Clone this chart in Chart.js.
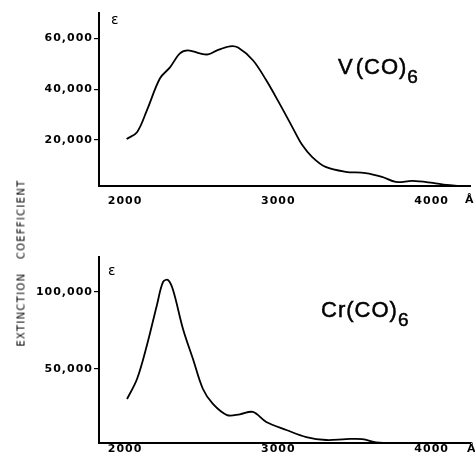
<!DOCTYPE html>
<html>
<head>
<meta charset="utf-8">
<script src="https://cdn.jsdelivr.net/npm/chart.js@4"></script>
<style>
  body { margin: 0; background: #fff; }
  #wrap { position: relative; width: 475px; height: 464px; overflow: hidden; font-family: "DejaVu Sans", sans-serif; color: #000; }
  .panel { position: absolute; left: 0; width: 475px; height: 232px; }
  .lbl { position: absolute; white-space: nowrap; line-height: 1; }
  .big { font-family: "Liberation Sans", sans-serif; font-size: 22px; letter-spacing: 1px; -webkit-text-stroke: 0.5px #000; }
  .big sub { font-size: 19px; vertical-align: -9px; line-height: 0; }
  .eps { font-size: 14px; }
  .ang { font-size: 11px; font-weight: bold; }
  #ylab { position: absolute; left: 21px; top: 263px; transform: translate(-50%, -50%) rotate(-90deg);
          font-size: 10px; letter-spacing: 1.3px; white-space: nowrap; word-spacing: 9px; }
</style>
</head>
<body>
<div id="wrap">
  <div class="panel" style="top:0"><canvas id="vChart"></canvas></div>
  <div class="panel" style="top:232px"><canvas id="crChart"></canvas></div>
  <div id="ylab">EXTINCTION COEFFICIENT</div>
  <div class="lbl eps" style="left:111px;top:12px">ε</div>
  <div class="lbl eps" style="left:108px;top:263px">ε</div>
  <div class="lbl big" style="left:338px;top:56px">V<span style="margin-left:2px">(CO)</span><sub>6</sub></div>
  <div class="lbl big" style="left:321px;top:299px">Cr(CO)<sub>6</sub></div>
  <div class="lbl ang" style="left:465px;top:194px">Å</div>
  <div class="lbl ang" style="left:467px;top:443px">Å</div>
</div>
<script>
// wavelength in angstrom, extinction coefficient
const xTicks = [2000, 3000, 4000];

const vWave = [2010, 2078, 2143, 2228, 2293, 2358, 2410, 2488, 2541, 2600, 2684, 2737, 2834, 2921, 3006, 3091, 3156, 3221, 3308, 3438, 3568, 3676, 3766, 3876, 4007, 4097, 4180];
const vEps  = [20400, 23100, 31800, 44300, 48600, 54100, 55300, 54100, 53700, 55300, 56900, 56400, 51400, 43500, 34500, 25100, 18000, 13300, 9400, 7500, 7000, 5500, 3500, 3900, 3100, 2300, 1900];
const vTicks = [20000, 40000, 60000];

const crWave = [2013, 2078, 2143, 2208, 2248, 2280, 2313, 2378, 2443, 2508, 2573, 2665, 2749, 2834, 2921, 3052, 3182, 3312, 3442, 3547, 3638, 3710];
const crEps  = [30500, 43500, 65600, 91600, 106500, 107800, 101300, 76000, 56500, 37000, 27300, 20100, 20600, 22100, 15600, 10400, 5800, 3900, 4500, 4500, 2300, 1950];
const crTicks = [50000, 100000];

const tickFont = { family: 'DejaVu Sans', size: 11, weight: 'bold' };

const spacing = {
    id: 'spacing',
    beforeDraw(chart) { chart.ctx.letterSpacing = '1px'; }
};

function makeChart(id, wave, eps, yTicks, yMin, yMax, padTop, xHeight, xPad) {
    const ctx = document.getElementById(id).getContext('2d');
    return new Chart(ctx, {
        type: 'line',
        data: {
            datasets: [{
                data: wave.map((w, i) => ({ x: w, y: eps[i] })),
                borderColor: '#000',
                borderWidth: 1.8,
                pointRadius: 0,
                fill: false,
                tension: 0.35
            }]
        },
        options: {
            responsive: false,
            animation: false,
            layout: { padding: { top: padTop, right: 5, left: 0, bottom: 0 } },
            plugins: { legend: { display: false }, tooltip: { enabled: false } },
            scales: {
                x: {
                    type: 'linear', min: 1830, max: 4250,
                    afterBuildTicks: s => { s.ticks = xTicks.map(v => ({ value: v })); },
                    afterFit: s => { s.height = xHeight; },
                    grid: { drawOnChartArea: false, drawTicks: false },
                    border: { display: true, color: '#000', width: 2 },
                    ticks: { color: '#000', font: tickFont, padding: xPad, maxRotation: 0,
                             callback: v => String(v) }
                },
                y: {
                    min: yMin, max: yMax,
                    afterBuildTicks: s => { s.ticks = yTicks.map(v => ({ value: v })); },
                    afterFit: s => { s.width = 99; },
                    grid: { drawOnChartArea: false, drawTicks: true, tickLength: 5, color: '#000', lineWidth: 1.2 },
                    border: { display: true, color: '#000', width: 2 },
                    ticks: { color: '#000', font: tickFont, padding: 1,
                             callback: v => v.toLocaleString('en-US') }
                }
            }
        },
        plugins: [spacing]
    });
}

for (const id of ['vChart', 'crChart']) {
    const c = document.getElementById(id);
    c.width = 475; c.height = 232;
}

makeChart('vChart', vWave, vEps, vTicks, 1900, 70000, 13, 46, 9);
makeChart('crChart', crWave, crEps, crTicks, 1950, 122700, 25, 21, 0);
</script>
</body>
</html>
